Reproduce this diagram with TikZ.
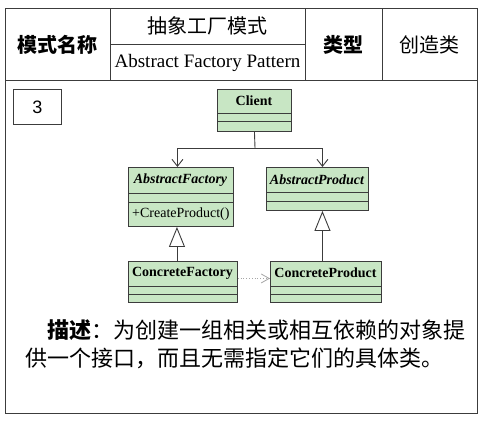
\documentclass[tikz,border=0pt]{standalone}
\usepackage{fontspec}
\setmainfont{Liberation Serif}
\setsansfont{Liberation Sans}
\newfontfamily\cjk{Noto Sans CJK SC}
\usetikzlibrary{arrows.meta}
\definecolor{umlgreen}{RGB}{200,230,196}
\definecolor{linec}{RGB}{60,60,60}
\tikzset{
  frame/.style={draw=linec, line width=1bp},
  umlbox/.style={draw=linec, fill=umlgreen, line width=0.9bp, anchor=north west, inner sep=0pt},
  divider/.style={draw=linec, line width=0.9bp},
  uname/.style={font=\fontsize{14bp}{16bp}\selectfont\bfseries, inner sep=0pt},
  aname/.style={font=\fontsize{14bp}{16bp}\selectfont\bfseries\itshape, inner sep=0pt},
  opname/.style={font=\fontsize{14bp}{16bp}\selectfont, inner sep=0pt, anchor=west},
  assoc/.style={draw=linec, line width=0.9bp, -{Straight Barb[length=7bp,width=11bp]}},
  inherit/.style={draw=linec, line width=0.9bp, -{Triangle[open,length=20bp,width=16bp,fill=white]}},
  depend/.style={draw=gray!70, line width=0.8bp, dotted, -{Straight Barb[length=8bp,width=9bp]}},
  hcjk/.style={font=\cjk\fontsize{20bp}{22bp}\selectfont, inner sep=0pt},
  hcjkb/.style={font=\cjk\bfseries\fontsize{20bp}{22bp}\selectfont, inner sep=0pt},
  desc/.style={font=\cjk\fontsize{22bp}{26bp}\selectfont, inner sep=0pt, anchor=west}
}
\begin{document}
\begin{tikzpicture}[x=1bp,y=-1bp]
\useasboundingbox (0,0) rectangle (488,423);
% frame and header table
\draw[frame] (5,8) rectangle (477,413);
\draw[frame] (5,80) -- (477,80);
\draw[frame] (110,8) -- (110,80);
\draw[frame] (305,8) -- (305,80);
\draw[frame] (382,8) -- (382,80);
\draw[frame] (110,44) -- (305,44);
\node[hcjkb] (modename) at (57.5,45) {模式名称};
\node[hcjk] (cname) at (207.5,26) {抽象工厂模式};
\node[font=\fontsize{19bp}{21bp}\selectfont, inner sep=0pt] (ename) at (207.5,63) {Abstract Factory Pattern};
\node[hcjkb] (typelabel) at (343.5,45) {类型};
\node[hcjk] (typeval) at (429.5,45) {创造类};
% number box
\node[draw=linec, line width=1bp, minimum width=48bp, minimum height=35bp, anchor=north west, inner sep=0pt,
      font=\sffamily\fontsize{18bp}{20bp}\selectfont] (num) at (13,89) {3};
% Client
\node[umlbox, minimum width=74bp, minimum height=42bp] (client) at (217,89) {};
\draw[divider] (217,113) -- (291,113);
\draw[divider] (217,121) -- (291,121);
\node[uname] (clientname) at (254,101) {Client};
% AbstractFactory
\node[umlbox, minimum width=105bp, minimum height=59bp] (af) at (128,167) {};
\draw[divider] (128,193) -- (233,193);
\draw[divider] (128,202) -- (233,202);
\node[aname] (afname) at (180.5,180) {AbstractFactory};
\node[opname] (afop) at (132,214) {+CreateProduct()};
% AbstractProduct
\node[umlbox, minimum width=102bp, minimum height=43bp] (ap) at (266,167) {};
\draw[divider] (266,192) -- (368,192);
\draw[divider] (266,201) -- (368,201);
\node[aname] (apname) at (317,180) {AbstractProduct};
% ConcreteFactory
\node[umlbox, minimum width=109bp, minimum height=41bp] (cf) at (128,261) {};
\draw[divider] (128,286) -- (237,286);
\draw[divider] (128,294) -- (237,294);
\node[uname] (cfname) at (182.5,273) {ConcreteFactory};
% ConcreteProduct
\node[umlbox, minimum width=111bp, minimum height=41bp] (cp) at (270,261) {};
\draw[divider] (270,286) -- (381,286);
\draw[divider] (270,294) -- (381,294);
\node[uname] (cpname) at (325.5,273) {ConcreteProduct};
% connectors
\coordinate (junc) at (255,148);
\draw[draw=linec, line width=0.9bp] (client.south) -- (junc);
\draw[assoc] (junc) -| ([xshift=-3.5bp]af.north);
\draw[assoc] (junc) -| ([xshift=5bp]ap.north);
\draw[inherit] ([xshift=-6bp]cf.north) -- ([xshift=-4bp]af.south);
\draw[inherit] ([xshift=-3.5bp]cp.north) -- ([xshift=5bp]ap.south);
\draw[depend] ([yshift=3.5bp]cf.east) -- ([yshift=3.5bp]cp.west);
% description
\node[desc] (d1) at (47,330) {{\bfseries 描述}：为创建一组相关或相互依赖的对象提};
\node[desc] (d2) at (25,358) {供一个接口，而且无需指定它们的具体类。};
\end{tikzpicture}
\end{document}
